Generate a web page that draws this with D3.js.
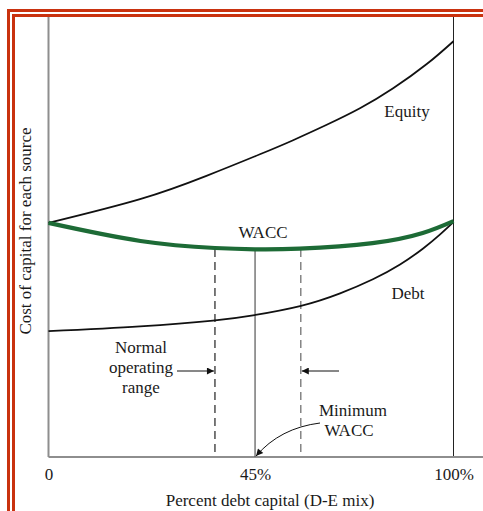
<!DOCTYPE html>
<html>
<head>
<meta charset="utf-8">
<script src="https://cdn.jsdelivr.net/npm/d3@7"></script>
<style>
  html, body { margin: 0; padding: 0; background: #fff; }
  svg text { font-family: "Liberation Serif", "DejaVu Serif", serif; fill: #1a1a1a; }
</style>
</head>
<body>
<svg id="chart" width="483" height="511"></svg>
<script>
// debt fraction (0..1) and cost of capital (arbitrary units 0..100)
const equityX = [0, 0.226, 0.39, 0.522, 0.604, 0.687, 0.769, 0.851, 0.934, 1];
const equityY = [53.2, 58.6, 63.9, 68.8, 72.0, 75.5, 79.25, 83.8, 89.3, 94.5];
const debtX = [0, 0.226, 0.406, 0.505, 0.621, 0.72, 0.801, 0.868, 0.925, 0.967, 1];
const debtY = [28.6, 29.7, 31.0, 32.2, 34.3, 37.2, 40.4, 43.75, 47.4, 50.6, 53.4];
const waccX = [0, 0.227, 0.411, 0.51, 0.62, 0.8, 0.924, 1];
const waccY = [53.2, 49.1, 47.5, 47.2, 47.35, 48.6, 50.9, 53.6];

const tickValues = [0, 0.51, 1];
const tickLabels = ['0', '45%', '100%'];

const minimumX = 0.51;
const operatingRange = [0.411, 0.623];
const markerTop = 47.3;

const svg = d3.select('#chart');
const red = '#c9320f';
const green = '#1d6b36';

const x = d3.scaleLinear().domain([0, 1]).range([48.5, 453.5]);
const y = d3.scaleLinear().domain([0, 100]).range([457, 17]);

// red double frame
[[7, 9], [12, 14]].forEach(([l, t]) => {
    svg.append('path')
        .attr('d', `M${l + 1.5},511 V${t + 1.5} H483`)
        .attr('fill', 'none')
        .attr('stroke', red)
        .attr('stroke-width', 3);
});

svg.append('defs').append('marker')
    .attr('id', 'arrow')
    .attr('viewBox', '0 0 10 10')
    .attr('refX', 10).attr('refY', 5)
    .attr('markerWidth', 9).attr('markerHeight', 7)
    .attr('markerUnits', 'userSpaceOnUse')
    .attr('orient', 'auto')
    .append('path')
    .attr('d', 'M0,0 L10,5 L0,10 Z')
    .attr('fill', '#111');

// axes frame
svg.append('line')
    .attr('x1', x(0)).attr('x2', x(0))
    .attr('y1', y(100)).attr('y2', y(0))
    .attr('stroke', '#8e8e8e').attr('stroke-width', 2);
svg.append('line')
    .attr('x1', x(1)).attr('x2', x(1))
    .attr('y1', y(100)).attr('y2', y(0))
    .attr('stroke', '#222').attr('stroke-width', 1);
svg.append('line')
    .attr('x1', x(0)).attr('x2', 483)
    .attr('y1', y(0)).attr('y2', y(0))
    .attr('stroke', '#8e8e8e').attr('stroke-width', 2);

const xAxis = svg.append('g')
    .attr('transform', `translate(0,${y(0)})`)
    .call(d3.axisBottom(x)
        .tickValues(tickValues)
        .tickFormat((d, i) => tickLabels[i])
        .tickSize(0)
        .tickPadding(11));
xAxis.select('.domain').remove();
xAxis.selectAll('text')
    .attr('font-size', 17)
    .attr('font-family', '"Liberation Serif", serif')
    .attr('fill', '#1a1a1a');

svg.append('text')
    .attr('x', 270).attr('y', 506)
    .attr('text-anchor', 'middle')
    .attr('font-size', 17)
    .text('Percent debt capital (D-E mix)');

svg.append('text')
    .attr('transform', 'translate(31,231) rotate(-90)')
    .attr('text-anchor', 'middle')
    .attr('font-size', 17)
    .text('Cost of capital for each source');

// marker lines under the WACC curve
operatingRange.forEach((v, i) => {
    svg.append('line')
        .attr('x1', x(v)).attr('x2', x(v))
        .attr('y1', y(markerTop)).attr('y2', y(0))
        .attr('stroke', i === 0 ? '#222' : '#666')
        .attr('stroke-width', 1.2)
        .attr('stroke-dasharray', '8,5');
});
svg.append('line')
    .attr('x1', x(minimumX)).attr('x2', x(minimumX))
    .attr('y1', y(markerTop)).attr('y2', y(0))
    .attr('stroke', '#555').attr('stroke-width', 1.2);

const line = d3.line()
    .x(d => x(d[0]))
    .y(d => y(d[1]))
    .curve(d3.curveNatural);

svg.append('path')
    .datum(d3.zip(equityX, equityY))
    .attr('d', line)
    .attr('fill', 'none').attr('stroke', '#111').attr('stroke-width', 1.8);
svg.append('path')
    .datum(d3.zip(debtX, debtY))
    .attr('d', line)
    .attr('fill', 'none').attr('stroke', '#111').attr('stroke-width', 1.8);
svg.append('path')
    .datum(d3.zip(waccX, waccY))
    .attr('d', line)
    .attr('fill', 'none').attr('stroke', green).attr('stroke-width', 4.2);

// curve labels
const labels = [
    { t: 'Equity', x: 407, y: 117 },
    { t: 'WACC', x: 263, y: 238 },
    { t: 'Debt', x: 408, y: 299 }
];
labels.forEach(l => {
    svg.append('text')
        .attr('x', l.x).attr('y', l.y)
        .attr('text-anchor', 'middle')
        .attr('font-size', 17)
        .text(l.t);
});

// annotations
['Normal', 'operating', 'range'].forEach((t, i) => {
    svg.append('text')
        .attr('x', 141).attr('y', 353 + i * 20)
        .attr('text-anchor', 'middle')
        .attr('font-size', 17)
        .text(t);
});
svg.append('line')
    .attr('x1', 177).attr('x2', x(operatingRange[0]) - 1)
    .attr('y1', 371).attr('y2', 371)
    .attr('stroke', '#111').attr('stroke-width', 1)
    .attr('marker-end', 'url(#arrow)');
svg.append('line')
    .attr('x1', 339).attr('x2', x(operatingRange[1]) + 1)
    .attr('y1', 371).attr('y2', 371)
    .attr('stroke', '#111').attr('stroke-width', 1)
    .attr('marker-end', 'url(#arrow)');

['Minimum', 'WACC'].forEach((t, i) => {
    svg.append('text')
        .attr('x', i === 0 ? 353 : 349).attr('y', 416 + i * 20)
        .attr('text-anchor', 'middle')
        .attr('font-size', 17)
        .text(t);
});
svg.append('path')
    .attr('d', `M320,423 Q280,428 ${x(minimumX) + 1},${y(0) - 1}`)
    .attr('fill', 'none')
    .attr('stroke', '#111').attr('stroke-width', 1)
    .attr('marker-end', 'url(#arrow)');
</script>
</body>
</html>
